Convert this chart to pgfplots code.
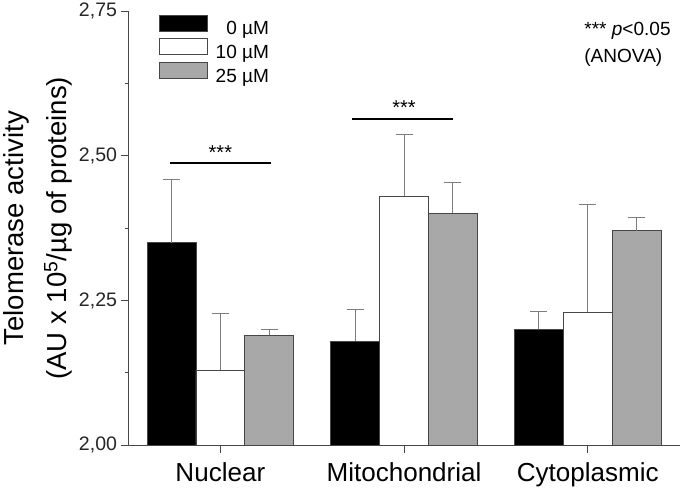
\documentclass[border=0pt]{standalone}
\usepackage{fontspec}
\setmainfont{Liberation Sans}
\usepackage{pgfplots}
\pgfplotsset{compat=1.18}
\definecolor{barfill}{RGB}{168,168,168}
\definecolor{edge}{RGB}{70,70,70}
\definecolor{errc}{RGB}{125,125,125}
\begin{document}
\begin{tikzpicture}
\begin{axis}[
  scale only axis, width=550pt, height=433pt,
  xmin=-0.5, xmax=2.5, ymin=2, ymax=2.75,
  axis lines*=left,
  axis line style={edge, line width=1pt},
  ytick={2,2.25,2.5,2.75}, minor ytick={2.125,2.375,2.625},
  xtick={0,1,2}, xticklabels={Nuclear,Mitochondrial,Cytoplasmic},
  tick align=outside, major tick length=8pt, minor tick length=4pt,
  every tick/.style={edge, line width=1pt},
  minor tick style={edge, line width=1pt},
  /pgf/number format/.cd, fixed, fixed zerofill, precision=2, use comma, assume math mode=true,
  /pgfplots/.cd,
  yticklabel style={font=\fontsize{19.5}{21}\selectfont, text=black!85},
  xticklabel style={font=\fontsize{26}{30}\selectfont, yshift=-6pt},
  ylabel={Telomerase activity\\(AU x 10\textsuperscript{5}/µg of proteins)},
  ylabel style={align=center, font=\fontsize{27.5}{43}\selectfont},
  ybar, bar width=0.266,
  legend image code/.code={\draw[#1, draw=edge, line width=0.8pt] (0pt,-2pt) rectangle (48pt,14pt);},
  legend style={at={(rel axis cs:0.0545,0.993)}, anchor=north west, draw=none, fill=none,
     inner sep=0pt, row sep=0pt, column sep=6pt, font=\fontsize{19}{22}\selectfont},
  legend cell align=right,
  clip=false,
]
\addplot[fill=black, draw=edge, line width=0.8pt, bar shift=-0.266,
  error bars/.cd, y dir=plus, y explicit,
  error bar style={errc, line width=1pt},
  error mark options={errc, rotate=90, mark size=8.5pt, line width=1pt}]
  coordinates {(0,2.350) +- (0,0.109) (1,2.180) +- (0,0.055) (2,2.200) +- (0,0.031)};
\addplot[fill=white, draw=edge, line width=0.8pt, bar shift=0,
  error bars/.cd, y dir=plus, y explicit,
  error bar style={errc, line width=1pt},
  error mark options={errc, rotate=90, mark size=8.5pt, line width=1pt}]
  coordinates {(0,2.130) +- (0,0.098) (1,2.430) +- (0,0.108) (2,2.230) +- (0,0.186)};
\addplot[fill=barfill, draw=edge, line width=0.8pt, bar shift=0.266,
  error bars/.cd, y dir=plus, y explicit,
  error bar style={errc, line width=1pt},
  error mark options={errc, rotate=90, mark size=8.5pt, line width=1pt}]
  coordinates {(0,2.190) +- (0,0.010) (1,2.401) +- (0,0.054) (2,2.371) +- (0,0.022)};
\legend{0 µM, 10 µM, 25 µM}
\draw[black, line width=1.8pt] (axis cs:-0.273,2.488) -- (axis cs:0.278,2.488);
\draw[black, line width=1.8pt] (axis cs:0.716,2.564) -- (axis cs:1.267,2.564);
\node[anchor=base, font=\fontsize{20}{22}\selectfont] at (axis cs:0,2.494) {***};
\node[anchor=base, font=\fontsize{20}{22}\selectfont] at (axis cs:1,2.572) {***};
\node[anchor=north west, align=left, inner sep=0pt, font=\fontsize{19}{27}\selectfont]
  at (rel axis cs:0.827,0.975) {*** \textit{p}<0.05\\(ANOVA)};
\end{axis}
\end{tikzpicture}
\end{document}
